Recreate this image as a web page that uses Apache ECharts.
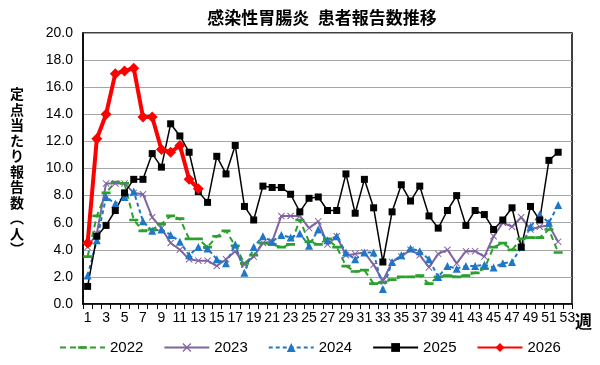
<!DOCTYPE html>
<html>
<head>
<meta charset="utf-8">
<script src="https://cdn.jsdelivr.net/npm/echarts@6/dist/echarts.min.js"></script>
<style>
html,body{margin:0;padding:0;background:#fff;}
#chart{width:600px;height:365px;}
</style>
</head>
<body>
<div id="chart"></div>
<script>
// ---- data ----
const weeks = [];
for (let i = 1; i <= 53; i++) weeks.push(String(i));

const seriesNames = ['2022', '2023', '2024', '2025', '2026'];

const d2022 = [3.5, 6.5, 8.2, 9.0, 8.9, 6.2, 5.4, 5.5, 5.9, 6.5, 6.3, 4.8, 4.8, 4.2, 5.0, 5.4, 4.3, 3.0, 3.6, 4.5,
  4.4, 4.2, 4.4, 6.2, 4.6, 4.4, 4.8, 4.2, 2.8, 2.4, 2.5, 1.5, 1.6, 1.8, 2.0, 2.0, 2.1, 1.5, 2.0, 2.1,
  2.0, 2.1, 2.3, 2.6, 4.2, 4.5, 4.0, 4.8, 4.9, 4.9, 5.5, 3.8];

const d2023 = [4.2, 5.2, 8.9, 8.9, 8.9, 8.2, 8.1, 6.4, 5.6, 4.5, 4.0, 3.3, 3.2, 3.2, 2.8, 3.3, 3.9, 2.9, 3.5, 4.5,
  4.6, 6.5, 6.5, 6.5, 5.6, 6.1, 4.4, 5.0, 3.6, 3.7, 3.8, 2.9, 1.7, 3.1, 3.5, 4.0, 3.6, 2.7, 3.7, 4.0,
  3.0, 3.9, 3.9, 3.5, 5.0, 6.0, 5.7, 6.4, 5.5, 5.7, 5.8, 4.6];

const d2024 = [2.1, 4.7, 7.9, 7.4, 7.9, 8.3, 6.1, 5.4, 5.5, 5.1, 4.6, 3.6, 4.2, 4.1, 3.3, 3.0, 4.4, 2.3, 4.2, 5.0,
  4.6, 5.1, 4.9, 5.2, 4.3, 5.5, 4.7, 5.0, 3.8, 3.3, 3.8, 3.8, 1.1, 3.1, 3.6, 4.1, 3.9, 3.3, 2.0, 2.8,
  2.6, 2.8, 2.8, 2.9, 2.7, 3.0, 3.1, 4.2, 5.7, 6.6, 6.0, 7.3];

const d2025 = [1.3, 5.0, 5.8, 6.9, 8.2, 9.2, 9.2, 11.1, 10.1, 13.3, 12.4, 11.2, 8.3, 7.5, 10.9, 9.6, 11.7, 7.2, 6.2, 8.7,
  8.6, 8.6, 8.1, 6.8, 7.8, 7.9, 6.9, 6.9, 9.6, 6.7, 9.2, 7.1, 3.1, 6.8, 8.8, 7.6, 8.7, 6.5, 5.6, 6.9,
  8.0, 5.8, 6.9, 6.6, 5.5, 6.2, 7.1, 4.2, 7.2, 6.2, 10.6, 11.2];

const d2026 = [4.5, 12.2, 14.0, 17.0, 17.2, 17.4, 13.8, 13.8, 11.4, 11.2, 11.7, 9.2, 8.5];

const yTicks = [0, 2, 4, 6, 8, 10, 12, 14, 16, 18, 20];

const titleText = '感染性胃腸炎\u2002患者報告数推移';
const yNameText = '定点当たり報告数︵人︶';
const xNameText = '週';

// ---- chart ----
const NUM_FONT = "'Liberation Sans', Arial, sans-serif";
const CJK_FONT = "'Noto Sans CJK JP', 'Noto Sans', sans-serif";
const xMark = 'path://M1,0L5,4L9,0L10,1L6,5L10,9L9,10L5,6L1,10L0,9L4,5L0,1Z';
const dashMark = 'path://M0,0L0.01,0L0,0ZM0,3.5L10,3.5L10,6.5L0,6.5ZM0,10L0.01,10L0,10Z';

const chart = echarts.init(document.getElementById('chart'), null, {renderer: 'canvas'});
chart.setOption({
  animation: false,
  backgroundColor: '#fff',
  title: {
    text: titleText,
    left: 322, top: 9, textAlign: 'center', padding: 0,
    textStyle: {fontFamily: CJK_FONT, fontSize: 17, fontWeight: 'bold', color: '#000'}
  },
  graphic: [
    {
      type: 'text', left: 10, top: 86,
      style: {
        text: yNameText.split('').join('\n'),
        font: "bold 14px 'Noto Sans CJK JP'",
        fill: '#000', lineHeight: 15.5, align: 'center'
      }
    },
    {
      type: 'text', left: 575, top: 313,
      style: {text: xNameText, font: "bold 17px 'Noto Sans CJK JP'", fill: '#000'}
    }
  ],
  legend: {
    data: seriesNames,
    left: 59, top: 340, padding: 0,
    itemWidth: 45, itemHeight: 11, itemGap: 20,
    textStyle: {fontFamily: NUM_FONT, fontSize: 15, color: '#000'}
  },
  grid: {
    left: 83, right: 28, top: 33, bottom: 61,
    show: true, borderColor: '#000', borderWidth: 1.5
  },
  xAxis: {
    type: 'category',
    data: weeks,
    boundaryGap: true,
    axisLine: {lineStyle: {color: '#000', width: 1.5}},
    axisTick: {show: true, interval: 0, length: 5, lineStyle: {color: '#000', width: 1}},
    axisLabel: {interval: 1, fontFamily: NUM_FONT, fontSize: 14, color: '#000', margin: 7},
    splitLine: {show: false}
  },
  yAxis: {
    type: 'value',
    min: yTicks[0], max: yTicks[yTicks.length - 1], interval: 2,
    axisLine: {show: true, lineStyle: {color: '#000', width: 1.5}},
    axisTick: {show: false},
    axisLabel: {formatter: v => v.toFixed(1), fontFamily: NUM_FONT, fontSize: 14, color: '#000', margin: 10},
    splitLine: {lineStyle: {color: '#a6a6a6', width: 1}}
  },
  series: [
    {
      name: '2022', type: 'line', data: d2022, showAllSymbol: true,
      symbol: dashMark, symbolSize: 9,
      itemStyle: {color: '#2ca02c'},
      lineStyle: {color: '#2ca02c', width: 2, type: [6, 4]}
    },
    {
      name: '2023', type: 'line', data: d2023, showAllSymbol: true,
      symbol: xMark, symbolSize: 7,
      itemStyle: {color: '#8064a2'},
      lineStyle: {color: '#8064a2', width: 2}
    },
    {
      name: '2024', type: 'line', data: d2024, showAllSymbol: true,
      symbol: 'triangle', symbolSize: 8,
      itemStyle: {color: '#1f77c8'},
      lineStyle: {color: '#1f77c8', width: 2, type: [4, 3]}
    },
    {
      name: '2025', type: 'line', data: d2025, showAllSymbol: true,
      symbol: 'rect', symbolSize: 7,
      itemStyle: {color: '#000'},
      lineStyle: {color: '#000', width: 1.5}
    },
    {
      name: '2026', type: 'line', data: d2026, showAllSymbol: true,
      symbol: 'diamond', symbolSize: 11,
      itemStyle: {color: '#ff0000'},
      lineStyle: {color: '#ff0000', width: 4}
    }
  ]
});
</script>
</body>
</html>
